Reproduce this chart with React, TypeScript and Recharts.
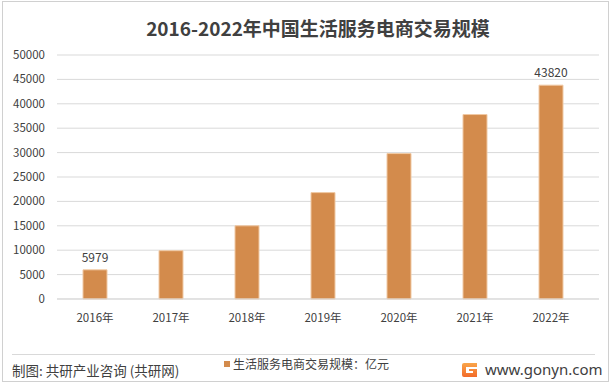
import React from 'react';
import { BarChart, Bar, XAxis, YAxis, CartesianGrid, LabelList, Legend } from 'recharts';

const categories = ['2016年', '2017年', '2018年', '2019年', '2020年', '2021年', '2022年'];
const values = [5979, 9900, 15000, 21800, 29800, 37800, 43820];
const yTicks = [0, 5000, 10000, 15000, 20000, 25000, 30000, 35000, 40000, 45000, 50000];
const labeledIndexes = [0, 6];
const seriesName = '生活服务电商交易规模：亿元';

const data = categories.map((c, i) => ({ name: c, value: values[i] }));

const FONT = '"Noto Sans CJK SC", "Noto Sans", sans-serif';
const TEXT = '#404040';

const renderLabel = (props: any) => {
  const { x, y, width, value, index } = props;
  if (!labeledIndexes.includes(index)) return null;
  return (
    <text
      x={Number(x) + Number(width) / 2}
      y={Number(y) - 13.5}
      textAnchor="middle"
      dominantBaseline="central"
      fontSize={12}
      fontFamily={FONT}
      fill={TEXT}
    >
      {value}
    </text>
  );
};

const renderLegend = () => (
  <div style={{ display: 'flex', alignItems: 'center', fontFamily: FONT, fontSize: 12, color: TEXT, whiteSpace: 'nowrap' }}>
    <span style={{ display: 'inline-block', width: 6, height: 6, background: '#D38B4C', marginRight: 3 }} />
    <span>{seriesName}</span>
  </div>
);

export default function App() {
  return (
    <div style={{ position: 'absolute', left: 0, top: 0, width: 612, height: 388, background: '#fff', overflow: 'hidden' }}>
      <div
        style={{
          position: 'absolute', left: 0, top: 16, width: 636, textAlign: 'center',
          fontFamily: FONT, fontWeight: 700, fontSize: 19, color: TEXT, lineHeight: '24px', whiteSpace: 'nowrap',
        }}
      >
        2016-2022年中国生活服务电商交易规模
      </div>
      <BarChart width={612} height={388} data={data} margin={{ top: 55, right: 13, left: 0, bottom: 43 }}>
        <CartesianGrid vertical={false} stroke="#D9D9D9" />
        <XAxis
          dataKey="name"
          height={30}
          axisLine={{ stroke: '#D9D9D9' }}
          tickLine={false}
          tickMargin={9}
          padding={{ left: 0, right: 10 }}
          interval={0}
          tick={{ fontSize: 11.5, fill: TEXT, fontFamily: FONT }}
        />
        <YAxis
          width={57}
          domain={[0, 50000]}
          ticks={yTicks}
          interval={0}
          axisLine={false}
          tickLine={false}
          tickMargin={6}
          tick={{ fontSize: 11.5, fill: TEXT, fontFamily: FONT }}
        />
        <Legend
          content={renderLegend}
          wrapperStyle={{ position: 'absolute', left: 224, top: 355, width: 200, height: 16 }}
        />
        <Bar dataKey="value" name={seriesName} fill="#D38B4C" stroke="#F0C9A4" strokeWidth={1} barSize={24} isAnimationActive={false}>
          <LabelList dataKey="value" content={renderLabel} />
        </Bar>
      </BarChart>
      <div style={{ position: 'absolute', left: 12, top: 354, width: 583, height: 1, background: '#D9D9D9' }} />
      <div
        style={{
          position: 'absolute', left: 12, top: 360, fontFamily: FONT, fontSize: 13.5, color: TEXT,
          lineHeight: '20px', whiteSpace: 'nowrap',
        }}
      >
        制图: 共研产业咨询 (共研网)
      </div>
      <svg style={{ position: 'absolute', left: 462, top: 363 }} width={15} height={14} viewBox="0 0 15 14">
        <defs>
          <linearGradient id="lg" x1="0" y1="0" x2="0" y2="1">
            <stop offset="0" stopColor="#F9A54A" />
            <stop offset="1" stopColor="#F26B2A" />
          </linearGradient>
        </defs>
        <path d="M2 0 H15 V4 H4 V10 H11 V8 H7 V6 H15 V14 H2 Q0 14 0 12 V2 Q0 0 2 0 Z" fill="url(#lg)" />
      </svg>
      <div
        style={{
          position: 'absolute', left: 485, top: 359, fontFamily: '"Noto Sans", sans-serif', fontSize: 15, color: TEXT,
          lineHeight: '20px', whiteSpace: 'nowrap',
        }}
      >
        www.gonyn.com
      </div>
      <div style={{ position: 'absolute', left: 2, top: 1, width: 605, height: 379, border: '1px solid #D0D0D0', pointerEvents: 'none' }} />
    </div>
  );
}
